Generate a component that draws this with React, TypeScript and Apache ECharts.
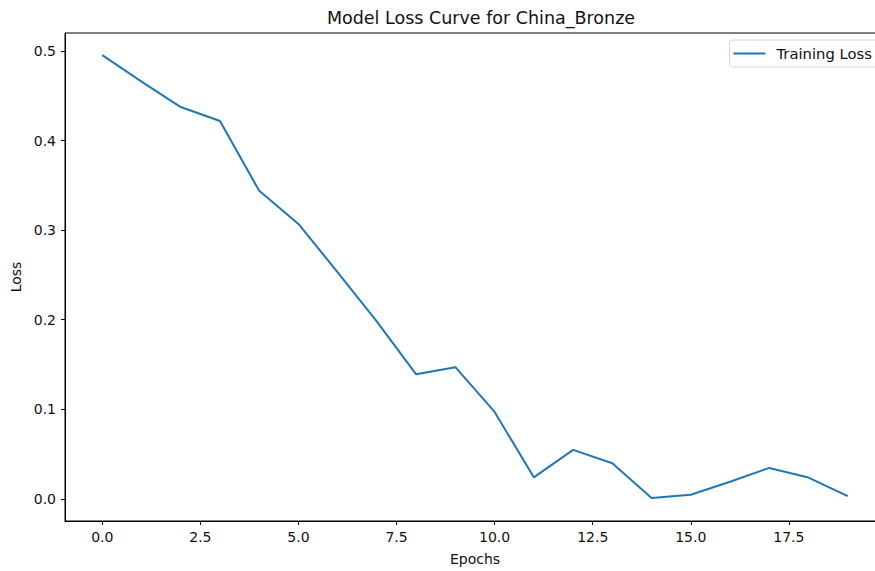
import React, { useEffect, useRef } from "react";
import * as echarts from "echarts";

const epochs: number[] = [0, 1, 2, 3, 4, 5, 6, 7, 8, 9, 10, 11, 12, 13, 14, 15, 16, 17, 18, 19];
const trainingLoss: number[] = [
  0.4955, 0.466, 0.4376, 0.422, 0.344, 0.307, 0.253, 0.198, 0.139, 0.147,
  0.097, 0.024, 0.0546, 0.0397, 0.001, 0.0045, 0.019, 0.0345, 0.0237, 0.003,
];
const xTicks: number[] = [0, 2.5, 5, 7.5, 10, 12.5, 15, 17.5];
const yTicks: number[] = [0, 0.1, 0.2, 0.3, 0.4, 0.5];

const FONT = "DejaVu Sans";

export default function App() {
  const ref = useRef<HTMLDivElement>(null);
  useEffect(() => {
    if (!ref.current) return;
    const chart = echarts.init(ref.current, null, { renderer: "svg" });
    chart.setOption({
      animation: false,
      backgroundColor: "#fff",
      title: {
        text: "Model Loss Curve for China_Bronze",
        left: 476,
        top: 4,
        textAlign: "center",
        textStyle: { fontFamily: FONT, fontSize: 17.5, fontWeight: "normal", color: "#111" },
      },
      legend: {
        show: true,
        right: 22,
        top: 40,
        orient: "vertical",
        itemWidth: 32,
        itemHeight: 2,
        padding: [6, 6, 6, 4],
        backgroundColor: "#fff",
        borderColor: "#d6d6d6",
        borderWidth: 1,
        borderRadius: 3,
        textStyle: { fontFamily: FONT, fontSize: 14.8, color: "#111", padding: [0, 0, 0, 6] },
        data: [{ name: "Training Loss", icon: "rect" }],
      },
      grid: {
        left: 65,
        top: 33,
        right: 15,
        bottom: 49,
        show: true,
        borderColor: "#000",
        borderWidth: 1,
        backgroundColor: "transparent",
      },
      xAxis: {
        type: "value",
        min: -0.95,
        max: 19.95,
        name: "Epochs",
        nameLocation: "middle",
        nameGap: 31,
        nameTextStyle: { fontFamily: FONT, fontSize: 14, color: "#111" },
        axisLine: { show: true, onZero: false, lineStyle: { color: "#000", width: 1 } },
        axisTick: { show: true, length: 4, lineStyle: { color: "#000" }, customValues: xTicks },
        axisLabel: {
          customValues: xTicks,
          formatter: (v: number) => v.toFixed(1),
          fontFamily: FONT,
          fontSize: 14,
          color: "#111",
          margin: 9,
        },
        splitLine: { show: false },
      },
      yAxis: {
        type: "value",
        min: -0.0248,
        max: 0.5203,
        name: "Loss",
        nameLocation: "middle",
        nameGap: 40,
        nameRotate: 90,
        nameTextStyle: { fontFamily: FONT, fontSize: 14, color: "#111" },
        axisLine: { show: true, onZero: false, lineStyle: { color: "#000", width: 1 } },
        axisTick: { show: true, length: 4, lineStyle: { color: "#000" }, customValues: yTicks },
        axisLabel: {
          customValues: yTicks,
          formatter: (v: number) => v.toFixed(1),
          fontFamily: FONT,
          fontSize: 14,
          color: "#111",
          margin: 9,
        },
        splitLine: { show: false },
      },
      series: [
        {
          name: "Training Loss",
          type: "line",
          data: epochs.map((e, i) => [e, trainingLoss[i]]),
          symbol: "none",
          lineStyle: { color: "#1f77b4", width: 2 },
          itemStyle: { color: "#1f77b4" },
        },
      ],
    });
    return () => chart.dispose();
  }, []);
  return (
    <div style={{ position: "fixed", left: 0, top: 0, width: 875, height: 571, overflow: "hidden", background: "#fff" }}>
      <div ref={ref} style={{ width: 900, height: 571 }} />
    </div>
  );
}
